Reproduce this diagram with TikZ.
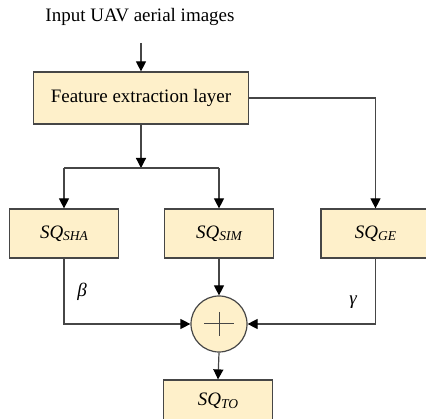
\documentclass[tikz,border=0pt]{standalone}
\usepackage{fontspec}
\setmainfont{Liberation Serif}
\usetikzlibrary{arrows.meta,calc}
\definecolor{boxfill}{RGB}{254,240,202}
\definecolor{lineclr}{RGB}{70,70,70}
\newcommand{\sqlab}[1]{{\itshape SQ\raisebox{-0.28ex}{\fontsize{13.5}{14}\selectfont #1}}}
\begin{document}
\begin{tikzpicture}[x=1pt,y=-1pt,
  font=\fontsize{19}{22}\selectfont,
  blk/.style={draw=lineclr,line width=1.2pt,fill=boxfill,minimum width=109pt,minimum height=49pt,inner sep=0pt},
  conn/.style={draw=lineclr,line width=1.2pt},
  arr/.style={conn,-{Triangle[length=10pt,width=10pt,fill=black,color=black]}}]
\useasboundingbox (0,0) rectangle (426,419);
\node (title) at (140,17) {Input UAV aerial images};
\coordinate (tin) at (141,43);
\node[blk,minimum width=215pt,minimum height=52pt] (feat) at (141,98) {Feature extraction layer};
\coordinate (junc) at (141,168);
\node[blk] (sha) at (64,233.5) {\sqlab{SHA}};
\node[blk] (sim) at (219,233.5) {\sqlab{SIM}};
\node[blk] (ge) at (375.5,233.5) {\sqlab{GE}};
\node[circle,draw=lineclr,line width=1.2pt,fill=boxfill,minimum size=56pt,inner sep=0pt] (sum) at (219,324) {};
\draw[lineclr,line width=1pt] ($(sum.center)+(-15,0)$) -- ($(sum.center)+(15,0)$);
\draw[lineclr,line width=1pt] ($(sum.center)+(0,-12)$) -- ($(sum.center)+(0,12)$);
\node[blk] (to) at (218,404.5) {\raisebox{10pt}{\sqlab{TO}}};
\node (beta) at (82,292) {\itshape β};
\node (gamma) at (353,302) {\itshape γ};
\draw[arr] (tin) -- (feat.north);
\draw[arr] (feat.south) -- (junc);
\draw[conn] (sha.north |- junc) -- (sim.north |- junc);
\draw[arr] (sha.north |- junc) -- (sha.north);
\draw[arr] (sim.north |- junc) -- (sim.north);
\draw[arr] (feat.east) -| (ge.north);
\draw[arr] (sha.south) |- (sum.west);
\draw[arr] (sim.south) -- (sum.north);
\draw[arr] (ge.south) |- (sum.east);
\draw[arr] (sum.south) -- (to.north);
\end{tikzpicture}
\end{document}
